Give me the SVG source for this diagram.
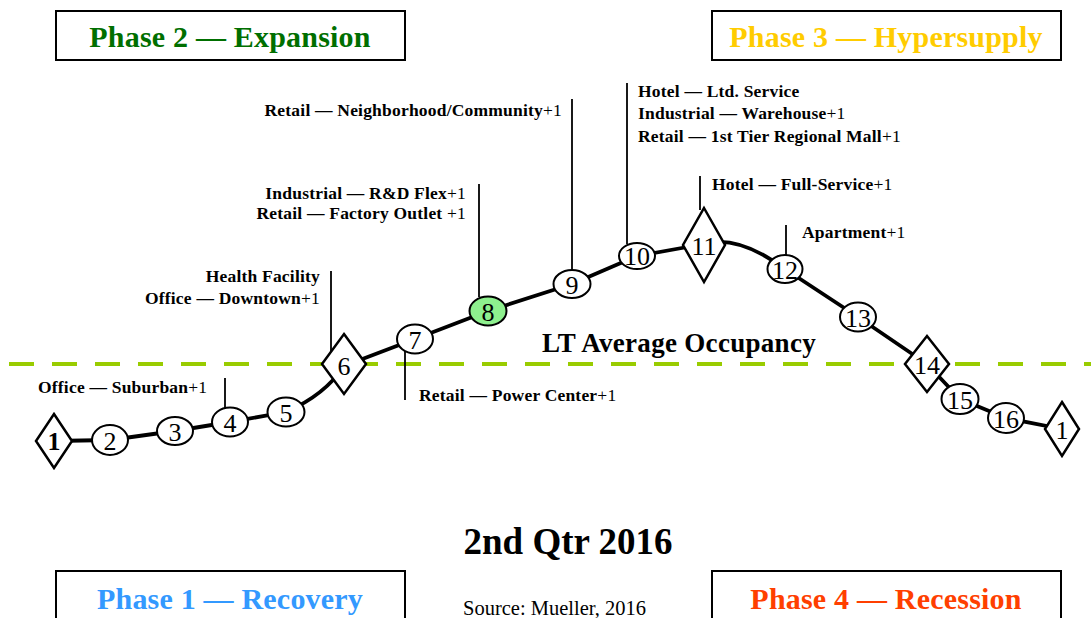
<svg xmlns="http://www.w3.org/2000/svg" width="1091" height="618" viewBox="0 0 1091 618">
<style>
.bg{fill:#ffffff}
.box{fill:#ffffff;stroke:#000;stroke-width:2}
.phase{font-family:"Liberation Serif","Times New Roman",serif;font-weight:bold;font-size:30px;text-anchor:middle;letter-spacing:0.2px}
.lbl{font-family:"Liberation Serif","Times New Roman",serif;font-weight:bold;font-size:17.5px;fill:#000;letter-spacing:0.2px}
.pl{font-weight:normal}
.num{font-family:"Liberation Serif","Times New Roman",serif;font-size:26px;text-anchor:middle;fill:#000}
.ell{fill:#ffffff;stroke:#000;stroke-width:2}
.dia{fill:#ffffff;stroke:#000;stroke-width:2.5;stroke-linejoin:miter}
.lead{stroke:#000;stroke-width:1.8;fill:none}
.curve{stroke:#000;stroke-width:3.8;fill:none;stroke-linejoin:round;stroke-linecap:round}
.avg{stroke:#99cc00;stroke-width:4;stroke-dasharray:25 18;fill:none}
</style>
<rect class="bg" x="0" y="0" width="1091" height="618"/>

<g id="phase2"><rect class="box" x="56" y="11" width="349" height="49"/><text class="phase" x="230" y="47" fill="#006f00">Phase 2 — Expansion</text></g>
<g id="phase3"><rect class="box" x="712" y="11" width="349" height="49"/><text class="phase" x="886" y="47" fill="#ffcc00">Phase 3 — Hypersupply</text></g>
<g id="phase1"><rect class="box" x="56" y="571" width="349" height="60"/><text class="phase" x="230" y="609" fill="#3399ff">Phase 1 — Recovery</text></g>
<g id="phase4"><rect class="box" x="712" y="571" width="349" height="60"/><text class="phase" x="886" y="609" fill="#ff3f00">Phase 4 — Recession</text></g>

<g id="average-line">
<line class="avg" x1="9" y1="364" x2="1091" y2="364"/>
<text x="542" y="352" font-family="Liberation Serif, Times New Roman, serif" font-weight="bold" font-size="27" letter-spacing="0.3">LT Average Occupancy</text>
</g>

<g id="title"><text x="568" y="554" font-family="Liberation Serif, Times New Roman, serif" font-weight="bold" font-size="37" text-anchor="middle">2nd Qtr 2016</text></g>
<g id="source"><text x="463" y="615" font-family="Liberation Serif, Times New Roman, serif" font-size="20.5">Source: Mueller, 2016</text></g>

<g id="connectors">
<path class="curve" d="M54,441 L110,440 L175,431 L230,422 L286,412 Q325,395 344,366 L415,339 L488,311 L572,284 L637,256 L704,244 C732,236 762,252 785,269 L858,317 L927,364 L960,399 L1006,418 L1062,429"/>
<line class="lead" x1="225" y1="378" x2="225" y2="409"/>
<line class="lead" x1="331" y1="271" x2="331" y2="356"/>
<line class="lead" x1="405" y1="350" x2="405" y2="400"/>
<line class="lead" x1="479" y1="184" x2="479" y2="297"/>
<line class="lead" x1="572" y1="99" x2="572" y2="270"/>
<line class="lead" x1="627" y1="83" x2="627" y2="244"/>
<line class="lead" x1="700" y1="176" x2="700" y2="210"/>
<line class="lead" x1="786" y1="225" x2="786" y2="256"/>
</g>

<g id="labels">
<text class="lbl" x="38" y="393">Office — Suburban<tspan class="pl">+1</tspan></text>
<text class="lbl" x="320" y="282" text-anchor="end">Health Facility</text>
<text class="lbl" x="320" y="304" text-anchor="end">Office — Downtown<tspan class="pl">+1</tspan></text>
<text class="lbl" x="419" y="401">Retail — Power Center<tspan class="pl">+1</tspan></text>
<text class="lbl" x="466" y="199" text-anchor="end">Industrial — R&amp;D Flex<tspan class="pl">+1</tspan></text>
<text class="lbl" x="466" y="219" text-anchor="end">Retail — Factory Outlet <tspan class="pl">+1</tspan></text>
<text class="lbl" x="562" y="116" text-anchor="end">Retail — Neighborhood/Community<tspan class="pl">+1</tspan></text>
<text class="lbl" x="638" y="97">Hotel — Ltd. Service</text>
<text class="lbl" x="638" y="119">Industrial — Warehouse<tspan class="pl">+1</tspan></text>
<text class="lbl" x="638" y="142">Retail — 1st Tier Regional Mall<tspan class="pl">+1</tspan></text>
<text class="lbl" x="712" y="190">Hotel — Full-Service<tspan class="pl">+1</tspan></text>
<text class="lbl" x="802" y="238">Apartment<tspan class="pl">+1</tspan></text>
</g>

<g id="n1a"><polygon class="dia" points="54,414 72,441 54,468 36,441"/><text class="num" x="54" y="450" font-weight="bold">1</text></g>
<g id="n2"><ellipse class="ell" cx="110" cy="440" rx="18" ry="15"/><text class="num" x="110" y="450">2</text></g>
<g id="n3"><ellipse class="ell" cx="175" cy="431" rx="18" ry="14"/><text class="num" x="175" y="441">3</text></g>
<g id="n4"><ellipse class="ell" cx="230" cy="422" rx="18" ry="14.5"/><text class="num" x="230" y="432">4</text></g>
<g id="n5"><ellipse class="ell" cx="286" cy="412" rx="18.5" ry="14.5"/><text class="num" x="286" y="422">5</text></g>
<g id="n6"><polygon class="dia" points="344,334 366,364 344,394 322,364"/><text class="num" x="344" y="375">6</text></g>
<g id="n7"><ellipse class="ell" cx="415" cy="339" rx="18" ry="14.5"/><text class="num" x="415" y="349">7</text></g>
<g id="n8"><ellipse class="ell" cx="488" cy="311" rx="18.5" ry="14.5" style="fill:#8ef08e"/><text class="num" x="488" y="321">8</text></g>
<g id="n9"><ellipse class="ell" cx="572" cy="284" rx="18.5" ry="14"/><text class="num" x="572" y="294">9</text></g>
<g id="n10"><ellipse class="ell" cx="637" cy="256" rx="18" ry="13"/><text class="num" x="637" y="265">10</text></g>
<g id="n11"><polygon class="dia" points="704,208 725,245 704,282 683,245"/><text class="num" x="704" y="255">11</text></g>
<g id="n12"><ellipse class="ell" cx="785" cy="269" rx="17.5" ry="14"/><text class="num" x="785" y="279">12</text></g>
<g id="n13"><ellipse class="ell" cx="858" cy="317" rx="18" ry="14.5"/><text class="num" x="858" y="327">13</text></g>
<g id="n14"><polygon class="dia" points="927,336 949,364 927,392 905,364"/><text class="num" x="927" y="374">14</text></g>
<g id="n15"><ellipse class="ell" cx="960" cy="399" rx="18.5" ry="15"/><text class="num" x="960" y="409">15</text></g>
<g id="n16"><ellipse class="ell" cx="1006" cy="418" rx="18" ry="15"/><text class="num" x="1006" y="428">16</text></g>
<g id="n1b"><polygon class="dia" points="1062,402 1079,429 1062,456 1045,429"/><text class="num" x="1062" y="439">1</text></g>
</svg>
